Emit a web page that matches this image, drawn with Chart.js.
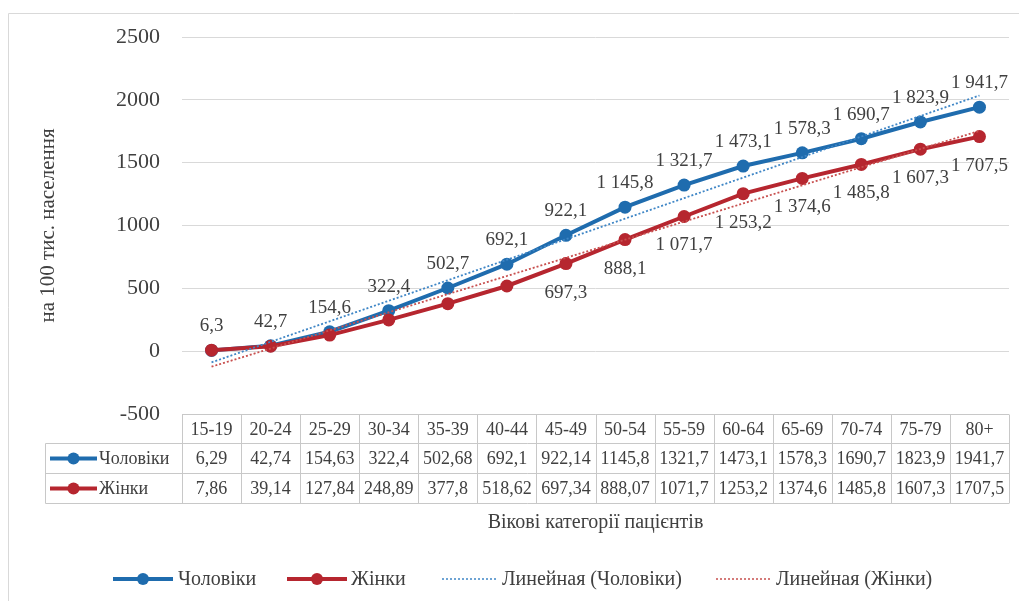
<!DOCTYPE html>
<html lang="uk">
<head>
    <meta charset="UTF-8">
    <title>Вікові категорії пацієнтів</title>
    <style>
        body { margin: 0; background: #fff; }
        canvas { display: block; }
    </style>
</head>
<body>
    <canvas id="grafik" width="1019" height="601"></canvas>

    <script src="https://cdn.jsdelivr.net/npm/chart.js"></script>
    <script>
        // дані: вікові групи і показники на 100 тис. населення
        const vikovi = ['15-19', '20-24', '25-29', '30-34', '35-39', '40-44', '45-49',
                        '50-54', '55-59', '60-64', '65-69', '70-74', '75-79', '80+'];
        const choloviky = [6.29, 42.74, 154.63, 322.4, 502.68, 692.1, 922.14,
                           1145.8, 1321.7, 1473.1, 1578.3, 1690.7, 1823.9, 1941.7];
        const zhinky = [7.86, 39.14, 127.84, 248.89, 377.8, 518.62, 697.34,
                        888.07, 1071.7, 1253.2, 1374.6, 1485.8, 1607.3, 1707.5];
        const yTicks = [-500, 0, 500, 1000, 1500, 2000, 2500];

        const SINIY = '#1f6cae';
        const CHERVONIY = '#b6262f';
        const SINIY_TREND = '#3f86c6';
        const CHERVONIY_TREND = '#c8504f';
        const TEKST = '#404040';
        const SHRYFT = '"Liberation Serif", "Times New Roman", serif';

        // лінійна апроксимація (метод найменших квадратів)
        function liniyna(values) {
            const n = values.length;
            let sx = 0, sy = 0, sxy = 0, sxx = 0;
            values.forEach((v, i) => {
                const x = i + 1;
                sx += x; sy += v; sxy += x * v; sxx += x * x;
            });
            const b = (n * sxy - sx * sy) / (n * sxx - sx * sx);
            const a = (sy - b * sx) / n;
            return values.map((v, i) => a + b * (i + 1));
        }

        // 1 145,8
        function pidpys(v) {
            const s = v.toFixed(1).replace('.', ',');
            const [cila, drib] = s.split(',');
            return cila.replace(/\B(?=(\d{3})+(?!\d))/g, ' ') + ',' + drib;
        }

        function tablychne(v) {
            return String(v).replace('.', ',');
        }

        function marker(ctx, x, y, r, kolir) {
            ctx.beginPath();
            ctx.arc(x, y, r, 0, Math.PI * 2);
            ctx.fillStyle = kolir;
            ctx.fill();
        }

        function kliuch(ctx, x1, x2, y, kolir) {
            ctx.beginPath();
            ctx.moveTo(x1, y);
            ctx.lineTo(x2, y);
            ctx.strokeStyle = kolir;
            ctx.lineWidth = 4;
            ctx.setLineDash([]);
            ctx.stroke();
            marker(ctx, (x1 + x2) / 2, y, 6, kolir);
        }

        // підписи точок, таблиця даних, легенда
        const dodatky = {
            id: 'dodatky',
            afterDatasetsDraw(chart) {
                const ctx = chart.ctx;
                ctx.save();
                ctx.font = '19px ' + SHRYFT;
                ctx.fillStyle = TEKST;
                ctx.textAlign = 'center';
                ctx.textBaseline = 'middle';
                chart.getDatasetMeta(0).data.forEach((p, i) => {
                    ctx.fillText(pidpys(choloviky[i]), p.x, p.y - 24);
                });
                chart.getDatasetMeta(1).data.forEach((p, i) => {
                    if (i < 6) return;
                    ctx.fillText(pidpys(zhinky[i]), p.x, p.y + 29);
                });
                ctx.restore();
            },
            afterDraw(chart) {
                const ctx = chart.ctx;
                const area = chart.chartArea;
                const xs = chart.scales.x;
                const krok = (area.right - area.left) / vikovi.length;
                ctx.save();

                // рамка
                ctx.strokeStyle = '#d9d9d9';
                ctx.lineWidth = 1;
                ctx.beginPath();
                ctx.moveTo(8.5, chart.height);
                ctx.lineTo(8.5, 13.5);
                ctx.lineTo(chart.width, 13.5);
                ctx.stroke();

                // таблиця даних
                const top = Math.round(area.bottom) + 0.5;
                const r1 = top + 29, r2 = r1 + 30, r3 = r2 + 30;
                const livo = 45.5;
                ctx.strokeStyle = '#c8c8c8';
                ctx.beginPath();
                ctx.moveTo(area.left, top); ctx.lineTo(area.right, top);
                [r1, r2, r3].forEach(y => { ctx.moveTo(livo, y); ctx.lineTo(area.right, y); });
                ctx.moveTo(livo, r1); ctx.lineTo(livo, r3);
                for (let i = 0; i <= vikovi.length; i++) {
                    const x = Math.round(area.left + i * krok) + 0.5;
                    ctx.moveTo(x, top); ctx.lineTo(x, r3);
                }
                ctx.stroke();

                ctx.fillStyle = TEKST;
                ctx.textAlign = 'center';
                ctx.textBaseline = 'middle';
                ctx.font = '18px ' + SHRYFT;
                vikovi.forEach((k, i) => {
                    const x = xs.getPixelForValue(i);
                    ctx.fillText(k, x, (top + r1) / 2 + 1);
                    ctx.fillText(tablychne(choloviky[i]), x, (r1 + r2) / 2 + 1);
                    ctx.fillText(tablychne(zhinky[i]), x, (r2 + r3) / 2 + 1);
                });

                kliuch(ctx, 50, 97, (r1 + r2) / 2, SINIY);
                kliuch(ctx, 50, 97, (r2 + r3) / 2, CHERVONIY);
                ctx.fillStyle = TEKST;
                ctx.textAlign = 'left';
                ctx.fillText('Чоловіки', 99, (r1 + r2) / 2 + 1);
                ctx.fillText('Жінки', 99, (r2 + r3) / 2 + 1);

                // назва осі X
                ctx.font = '20px ' + SHRYFT;
                ctx.textAlign = 'center';
                ctx.fillText('Вікові категорії пацієнтів', (area.left + area.right) / 2, 523);

                // легенда
                const ly = 579;
                kliuch(ctx, 113, 173, ly, SINIY);
                kliuch(ctx, 287, 347, ly, CHERVONIY);
                ctx.lineWidth = 1.5;
                ctx.setLineDash([2, 2]);
                ctx.strokeStyle = SINIY_TREND;
                ctx.beginPath(); ctx.moveTo(442, ly); ctx.lineTo(496, ly); ctx.stroke();
                ctx.strokeStyle = CHERVONIY_TREND;
                ctx.beginPath(); ctx.moveTo(716, ly); ctx.lineTo(771, ly); ctx.stroke();
                ctx.setLineDash([]);
                ctx.fillStyle = TEKST;
                ctx.textAlign = 'left';
                ctx.fillText('Чоловіки', 178, ly + 1);
                ctx.fillText('Жінки', 351, ly + 1);
                ctx.fillText('Линейная (Чоловіки)', 502, ly + 1);
                ctx.fillText('Линейная (Жінки)', 776, ly + 1);

                ctx.restore();
            }
        };

        const grafik = new Chart(document.getElementById('grafik'), {
            type: 'line',
            data: {
                labels: vikovi,
                datasets: [
                    {
                        label: 'Чоловіки',
                        data: choloviky,
                        borderColor: SINIY,
                        backgroundColor: SINIY,
                        borderWidth: 4,
                        pointRadius: 6.5,
                        pointBorderWidth: 0,
                        order: 2
                    },
                    {
                        label: 'Жінки',
                        data: zhinky,
                        borderColor: CHERVONIY,
                        backgroundColor: CHERVONIY,
                        borderWidth: 4,
                        pointRadius: 6.5,
                        pointBorderWidth: 0,
                        order: 1
                    },
                    {
                        label: 'Линейная (Чоловіки)',
                        data: liniyna(choloviky),
                        borderColor: SINIY_TREND,
                        borderWidth: 1.8,
                        borderDash: [2, 2],
                        pointRadius: 0,
                        order: 0
                    },
                    {
                        label: 'Линейная (Жінки)',
                        data: liniyna(zhinky),
                        borderColor: CHERVONIY_TREND,
                        borderWidth: 1.8,
                        borderDash: [2, 2],
                        pointRadius: 0,
                        order: 0
                    }
                ]
            },
            options: {
                responsive: false,
                animation: false,
                layout: { padding: { left: 0, top: 37, right: 10, bottom: 187 } },
                plugins: {
                    legend: { display: false },
                    tooltip: { enabled: false }
                },
                scales: {
                    x: {
                        display: false,
                        offset: true
                    },
                    y: {
                        min: -500,
                        max: 2500,
                        afterFit: s => { s.width = 182; },
                        afterBuildTicks: s => { s.ticks = yTicks.map(v => ({ value: v })); },
                        border: { display: false },
                        grid: { color: '#d9d9d9', drawTicks: false },
                        ticks: {
                            padding: 22,
                            color: TEKST,
                            font: { family: SHRYFT, size: 22 },
                            callback: v => String(v)
                        },
                        title: {
                            display: true,
                            text: 'на 100 тис. населення',
                            color: TEKST,
                            font: { family: SHRYFT, size: 21 },
                            padding: { top: 36, bottom: 0 }
                        }
                    }
                }
            },
            plugins: [dodatky]
        });
    </script>
</body>
</html>
